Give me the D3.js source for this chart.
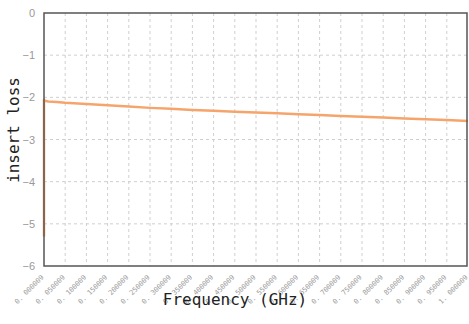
<!DOCTYPE html>
<html>
<head>
<meta charset="utf-8">
<script src="https://cdn.jsdelivr.net/npm/d3@7"></script>
<style>
  body { margin: 0; background: #fff; }
</style>
</head>
<body>
<svg></svg>
<script>
// frequency points (GHz) and insertion loss
var freq = [0.000009, 0.000009, 0.002, 0.01, 0.03, 0.05, 0.1, 0.15, 0.2, 0.25, 0.3, 0.35, 0.4,
            0.45, 0.5, 0.55, 0.6, 0.65, 0.7, 0.75, 0.8, 0.85, 0.9, 0.95, 1.000009];
var loss = [-5.3, -2.06, -2.08, -2.1, -2.11, -2.13, -2.16, -2.19, -2.22, -2.25, -2.27, -2.3, -2.32,
            -2.34, -2.36, -2.38, -2.4, -2.42, -2.44, -2.46, -2.48, -2.5, -2.52, -2.54, -2.56];
var xTicks = d3.range(21).map(function(i) { return 0.000009 + i * 0.05; });
var yTicks = [0, -1, -2, -3, -4, -5, -6];

var width = 469, height = 324;
var margin = {top: 13, right: 1, bottom: 58, left: 44};

var svg = d3.select("svg").attr("width", width).attr("height", height);

var x = d3.scaleLinear().domain([0.000009, 1.000009]).range([margin.left, width - margin.right]);
var y = d3.scaleLinear().domain([-6, 0]).range([height - margin.bottom, margin.top]);

// grid
svg.append("g").selectAll("line").data(xTicks.slice(1, -1)).enter().append("line")
    .attr("x1", function(d) { return x(d); }).attr("x2", function(d) { return x(d); })
    .attr("y1", y(0)).attr("y2", y(-6))
    .attr("stroke", "#cfcfcf").attr("stroke-dasharray", "3,3");
svg.append("g").selectAll("line").data(yTicks.slice(1, -1)).enter().append("line")
    .attr("y1", function(d) { return y(d); }).attr("y2", function(d) { return y(d); })
    .attr("x1", x.range()[0]).attr("x2", x.range()[1])
    .attr("stroke", "#cfcfcf").attr("stroke-dasharray", "3,3");

// x axis labels, rotated by hand
var fmt = d3.format(".6f");
svg.append("g").selectAll("text").data(xTicks).enter().append("text")
    .attr("transform", function(d) {
      return "translate(" + (x(d) - 1.5) + "," + (y(-6) + 10) + ") rotate(-45)";
    })
    .attr("text-anchor", "end")
    .attr("dy", "0.35em")
    .attr("font-family", "DejaVu Sans Mono, monospace")
    .attr("font-size", 7)
    .attr("fill", "#9a9a9a")
    .text(function(d) { return fmt(d).replace(".", ". "); });

// y axis labels
var yAxis = svg.append("g")
    .attr("transform", "translate(" + (margin.left - 6) + ",0)")
    .call(d3.axisLeft(y).tickValues(yTicks).tickSize(0).tickFormat(d3.format("d")));
yAxis.select(".domain").remove();
yAxis.selectAll("text")
    .attr("font-family", "Liberation Sans, Arial, sans-serif")
    .attr("font-size", 11)
    .attr("fill", "#999");

// line
var line = d3.line()
    .x(function(d, i) { return x(freq[i]); })
    .y(function(d) { return y(d); });
svg.append("path")
    .datum(loss)
    .attr("d", line)
    .attr("fill", "none")
    .attr("stroke", "#f5a56c")
    .attr("stroke-width", 2.5)
    .attr("stroke-linejoin", "round");

// frame
svg.append("rect")
    .attr("x", x.range()[0]).attr("y", y(0))
    .attr("width", x.range()[1] - x.range()[0] - 1)
    .attr("height", y(-6) - y(0))
    .attr("fill", "none")
    .attr("stroke", "#555")
    .attr("stroke-width", 1.5);

// titles
svg.append("text")
    .attr("x", 235).attr("y", 305)
    .attr("text-anchor", "middle")
    .attr("font-family", "DejaVu Sans Mono, monospace")
    .attr("font-size", 16)
    .attr("fill", "#222")
    .text("Frequency (GHz)");

svg.append("text")
    .attr("transform", "translate(19,130) rotate(-90)")
    .attr("text-anchor", "middle")
    .attr("font-family", "DejaVu Sans Mono, monospace")
    .attr("font-size", 16)
    .attr("fill", "#222")
    .text("insert loss");
</script>
</body>
</html>
